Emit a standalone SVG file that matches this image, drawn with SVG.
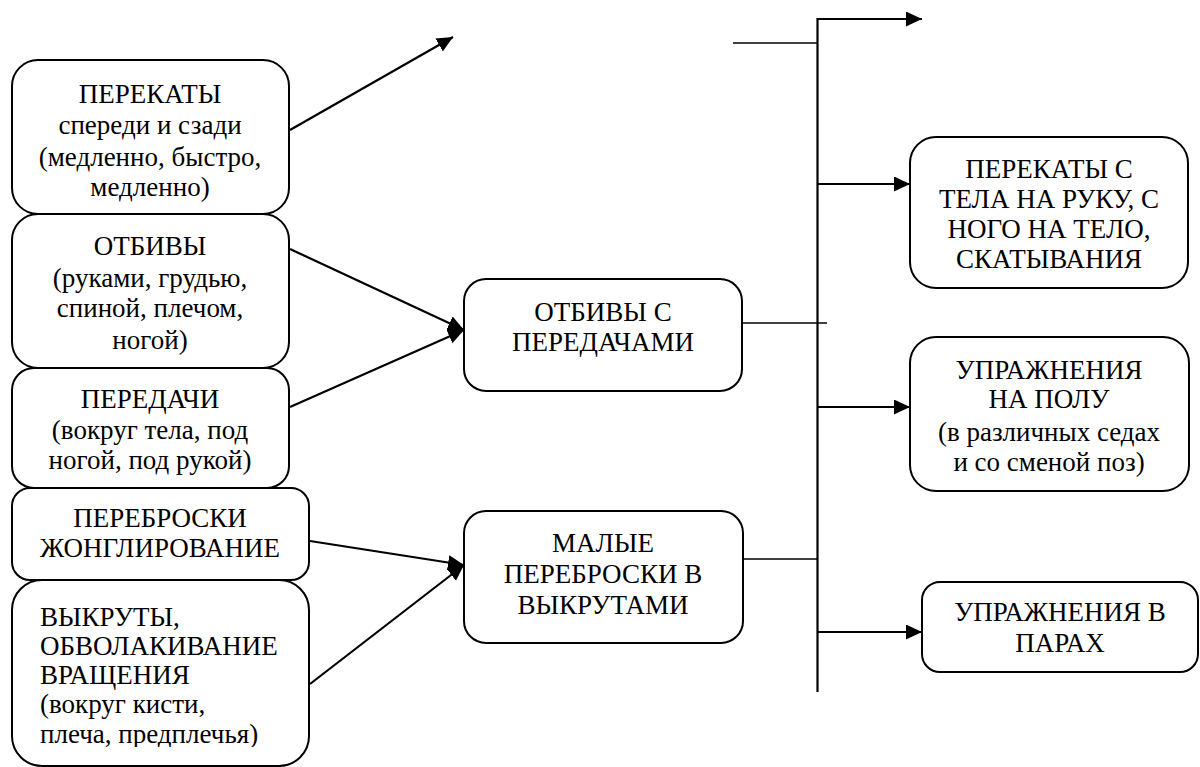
<svg xmlns="http://www.w3.org/2000/svg" width="1200" height="767" viewBox="0 0 1200 767">
  <defs>
    <marker id="arrow" markerUnits="userSpaceOnUse" markerWidth="17" markerHeight="16" refX="16" refY="7.5" orient="auto">
      <path d="M0,0 L16,7.5 L0,15 Z" fill="#000"/>
    </marker>
    <clipPath id="clipBottom">
      <rect x="0" y="0" width="1200" height="747"/>
    </clipPath>
  </defs>
  <style>
    .box { fill: #fff; stroke: #000; stroke-width: 2; }
    .link { fill: none; stroke: #000; stroke-width: 2.2; }
    .thin { fill: none; stroke: #000; stroke-width: 1.6; }
  </style>
  <rect width="1200" height="767" fill="#fff"/>

  <!-- left column -->
  <g id="perekaty">
    <rect class="box" x="12" y="60" width="277" height="154" rx="26"/>
    <text style="font-family:'Liberation Serif',serif;font-size:27px" text-anchor="middle" x="150" y="103">ПЕРЕКАТЫ</text>
    <text style="font-family:'Liberation Serif',serif;font-size:27px" text-anchor="middle" x="150" y="134">спереди и сзади</text>
    <text style="font-family:'Liberation Serif',serif;font-size:27px" text-anchor="middle" x="150" y="166">(медленно, быстро,</text>
    <text style="font-family:'Liberation Serif',serif;font-size:27px" text-anchor="middle" x="150" y="196">медленно)</text>
  </g>
  <g id="otbivy">
    <rect class="box" x="12" y="214" width="277" height="154" rx="26"/>
    <text style="font-family:'Liberation Serif',serif;font-size:27px" text-anchor="middle" x="150" y="255">ОТБИВЫ</text>
    <text style="font-family:'Liberation Serif',serif;font-size:27px" text-anchor="middle" x="150" y="287">(руками, грудью,</text>
    <text style="font-family:'Liberation Serif',serif;font-size:27px" text-anchor="middle" x="150" y="317">спиной, плечом,</text>
    <text style="font-family:'Liberation Serif',serif;font-size:27px" text-anchor="middle" x="150" y="349">ногой)</text>
  </g>
  <g id="peredachi">
    <rect class="box" x="12" y="368" width="277" height="120" rx="22"/>
    <text style="font-family:'Liberation Serif',serif;font-size:27px" text-anchor="middle" x="150" y="408">ПЕРЕДАЧИ</text>
    <text style="font-family:'Liberation Serif',serif;font-size:27px" text-anchor="middle" x="150" y="439">(вокруг тела, под</text>
    <text style="font-family:'Liberation Serif',serif;font-size:27px" text-anchor="middle" x="150" y="469">ногой, под рукой)</text>
  </g>
  <g id="perebroski">
    <rect class="box" x="12" y="488" width="297" height="92" rx="18"/>
    <text style="font-family:'Liberation Serif',serif;font-size:27px" text-anchor="middle" x="160" y="527">ПЕРЕБРОСКИ</text>
    <text style="font-family:'Liberation Serif',serif;font-size:27px" text-anchor="middle" x="160" y="557">ЖОНГЛИРОВАНИЕ</text>
  </g>
  <g id="vykruty">
    <rect class="box" x="12" y="580" width="297" height="186" rx="30"/>
    <!-- the last line runs past the bottom of the page and is cut off -->
    <g clip-path="url(#clipBottom)">
      <text style="font-family:'Liberation Serif',serif;font-size:27px" x="40" y="626">ВЫКРУТЫ,</text>
      <text style="font-family:'Liberation Serif',serif;font-size:27px" x="40" y="655">ОБВОЛАКИВАНИЕ</text>
      <text style="font-family:'Liberation Serif',serif;font-size:27px" x="40" y="684">ВРАЩЕНИЯ</text>
      <text style="font-family:'Liberation Serif',serif;font-size:27px" x="40" y="713">(вокруг кисти,</text>
      <text style="font-family:'Liberation Serif',serif;font-size:27px" x="40" y="743">плеча, предплечья)</text>
    </g>
  </g>

  <!-- middle column -->
  <g id="otbivy-s-peredachami">
    <rect class="box" x="464" y="279" width="278" height="112" rx="22"/>
    <text style="font-family:'Liberation Serif',serif;font-size:27px" text-anchor="middle" x="603" y="321">ОТБИВЫ С</text>
    <text style="font-family:'Liberation Serif',serif;font-size:27px" text-anchor="middle" x="603" y="351">ПЕРЕДАЧАМИ</text>
  </g>
  <g id="malye-perebroski">
    <rect class="box" x="464" y="511" width="279" height="132" rx="22"/>
    <text style="font-family:'Liberation Serif',serif;font-size:27px" text-anchor="middle" x="603" y="552">МАЛЫЕ</text>
    <text style="font-family:'Liberation Serif',serif;font-size:27px" text-anchor="middle" x="603" y="583">ПЕРЕБРОСКИ В</text>
    <text style="font-family:'Liberation Serif',serif;font-size:27px" text-anchor="middle" x="603" y="614">ВЫКРУТАМИ</text>
  </g>

  <!-- right column -->
  <g id="perekaty-s-tela">
    <rect class="box" x="910" y="137" width="278" height="151" rx="26"/>
    <text style="font-family:'Liberation Serif',serif;font-size:27px" text-anchor="middle" x="1049" y="178">ПЕРЕКАТЫ С</text>
    <text style="font-family:'Liberation Serif',serif;font-size:27px" text-anchor="middle" x="1049" y="208">ТЕЛА НА РУКУ, С</text>
    <text style="font-family:'Liberation Serif',serif;font-size:27px" text-anchor="middle" x="1049" y="238">НОГО НА ТЕЛО,</text>
    <text style="font-family:'Liberation Serif',serif;font-size:27px" text-anchor="middle" x="1049" y="268">СКАТЫВАНИЯ</text>
  </g>
  <g id="uprazhneniya-na-polu">
    <rect class="box" x="910" y="337" width="279" height="154" rx="26"/>
    <text style="font-family:'Liberation Serif',serif;font-size:27px" text-anchor="middle" x="1049" y="379">УПРАЖНЕНИЯ</text>
    <text style="font-family:'Liberation Serif',serif;font-size:27px" text-anchor="middle" x="1049" y="408">НА ПОЛУ</text>
    <text style="font-family:'Liberation Serif',serif;font-size:27px" text-anchor="middle" x="1049" y="441">(в различных седах</text>
    <text style="font-family:'Liberation Serif',serif;font-size:27px" text-anchor="middle" x="1049" y="471">и со сменой поз)</text>
  </g>
  <g id="uprazhneniya-v-parah">
    <rect class="box" x="922" y="582" width="276" height="90" rx="18"/>
    <text style="font-family:'Liberation Serif',serif;font-size:27px" text-anchor="middle" x="1060" y="621">УПРАЖНЕНИЯ В</text>
    <text style="font-family:'Liberation Serif',serif;font-size:27px" text-anchor="middle" x="1060" y="652">ПАРАХ</text>
  </g>

  <!-- connectors -->
  <g id="connectors">
    <line class="link" x1="290" y1="130" x2="453" y2="37" marker-end="url(#arrow)"/>
    <line class="link" x1="290" y1="249" x2="464" y2="330" marker-end="url(#arrow)"/>
    <line class="link" x1="290" y1="407" x2="464" y2="330" marker-end="url(#arrow)"/>
    <line class="link" x1="310" y1="541" x2="464" y2="565" marker-end="url(#arrow)"/>
    <line class="link" x1="310" y1="684" x2="464" y2="565" marker-end="url(#arrow)"/>

    <line class="link" x1="817.5" y1="18" x2="817.5" y2="692"/>
    <line class="thin" x1="733" y1="43" x2="817" y2="43"/>
    <line class="thin" x1="742" y1="323" x2="827" y2="323"/>
    <line class="thin" x1="743" y1="559" x2="818" y2="559"/>

    <line class="link" x1="817" y1="19" x2="922" y2="19" marker-end="url(#arrow)"/>
    <line class="link" x1="818" y1="184" x2="910" y2="184" marker-end="url(#arrow)"/>
    <line class="link" x1="818" y1="407" x2="910" y2="407" marker-end="url(#arrow)"/>
    <line class="link" x1="818" y1="632" x2="922" y2="632" marker-end="url(#arrow)"/>
  </g>
</svg>
